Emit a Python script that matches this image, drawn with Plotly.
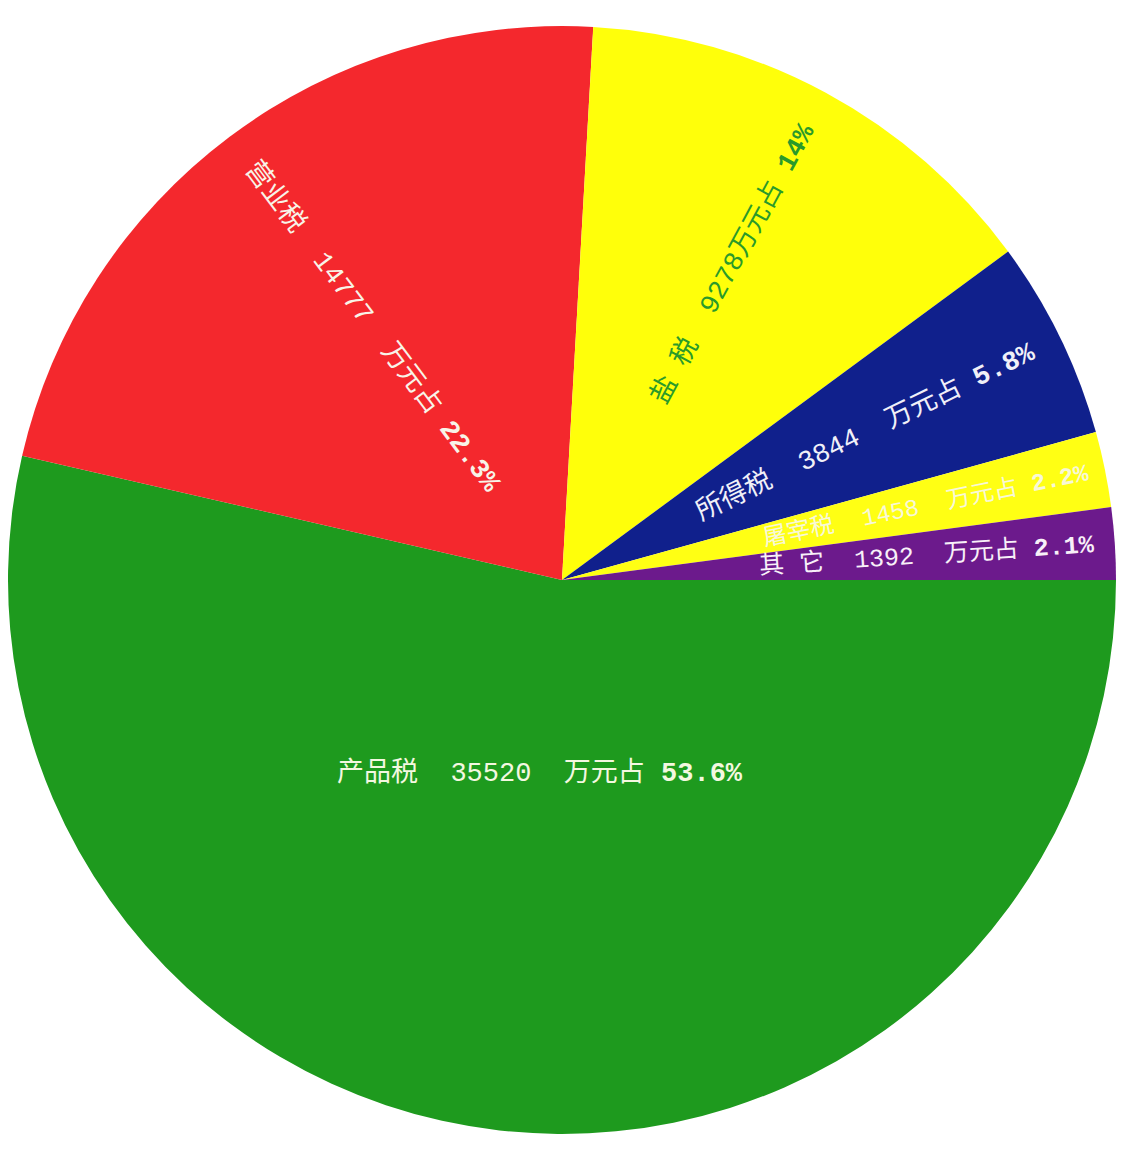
import math
import plotly.graph_objects as go

categories = ["产品税", "营业税", "盐税", "所得税", "屠宰税", "其它"]
values = [35520, 14777, 9278, 3844, 1458, 1392]
pct_labels = ["53.6%", "22.3%", "14%", "5.8%", "2.2%", "2.1%"]
name_labels = ["产品税", "营业税", "盐 税", "所得税", "屠宰税", "其 它"]

# styling (not data)
colors = ["#1e9a1e", "#f4282d", "#ffff0a", "#10208c", "#ffff14", "#6c1a8c"]
text_colors = ["#f4f8e0", "#f8f4e8", "#2a9a2a", "#f0f0f8", "#f8f8d8", "#f8f0f8"]
label_radius = [0.35, 0.57, 0.65, 0.61, 0.67, 0.66]   # fraction of pie radius
label_size = [27, 27, 27, 27, 24, 25]
label_orient = ["horizontal", "radial", "radial", "radial", "radial", "radial"]
font_family = "Liberation Mono, Noto Sans CJK SC, monospace"

texts = []
for i, (n, v, p) in enumerate(zip(name_labels, values, pct_labels)):
    if i == 2:
        texts.append(f"{n}  {v}万元占 <b>{p}</b>")
    else:
        texts.append(f"{n}  {v}  万元占 <b>{p}</b>")

fig = go.Figure()
fig.add_trace(go.Pie(
    labels=categories, values=values, sort=False, direction="clockwise",
    rotation=90, textinfo="none",
    marker=dict(colors=colors, line=dict(width=0)),
    showlegend=False, hoverinfo="label+value+percent",
    domain=dict(x=[0, 1], y=[0, 1]),
))

total = sum(values)
cum = 0.0
for i, v in enumerate(values):
    theta = 360.0 * (cum + v / 2.0) / total  # clockwise from east
    cum += v
    rad = math.radians(theta)
    r = label_radius[i]
    x = 0.5 + 0.5 * r * math.cos(rad)
    y = 0.5 - 0.5 * r * math.sin(rad)
    if label_orient[i] == "radial":
        ang = theta % 180.0
        if ang > 90:
            ang -= 180.0
    else:
        ang = 0
    fig.add_annotation(
        x=x, y=y, xref="paper", yref="paper", text=texts[i], showarrow=False,
        textangle=ang, font=dict(family=font_family, size=label_size[i], color=text_colors[i]),
        xanchor="center", yanchor="middle",
    )

fig.update_layout(
    width=1118, height=1144,
    margin=dict(l=0, r=10, t=18, b=18),
    paper_bgcolor="white", plot_bgcolor="white",
)
fig.write_html("out.html")
